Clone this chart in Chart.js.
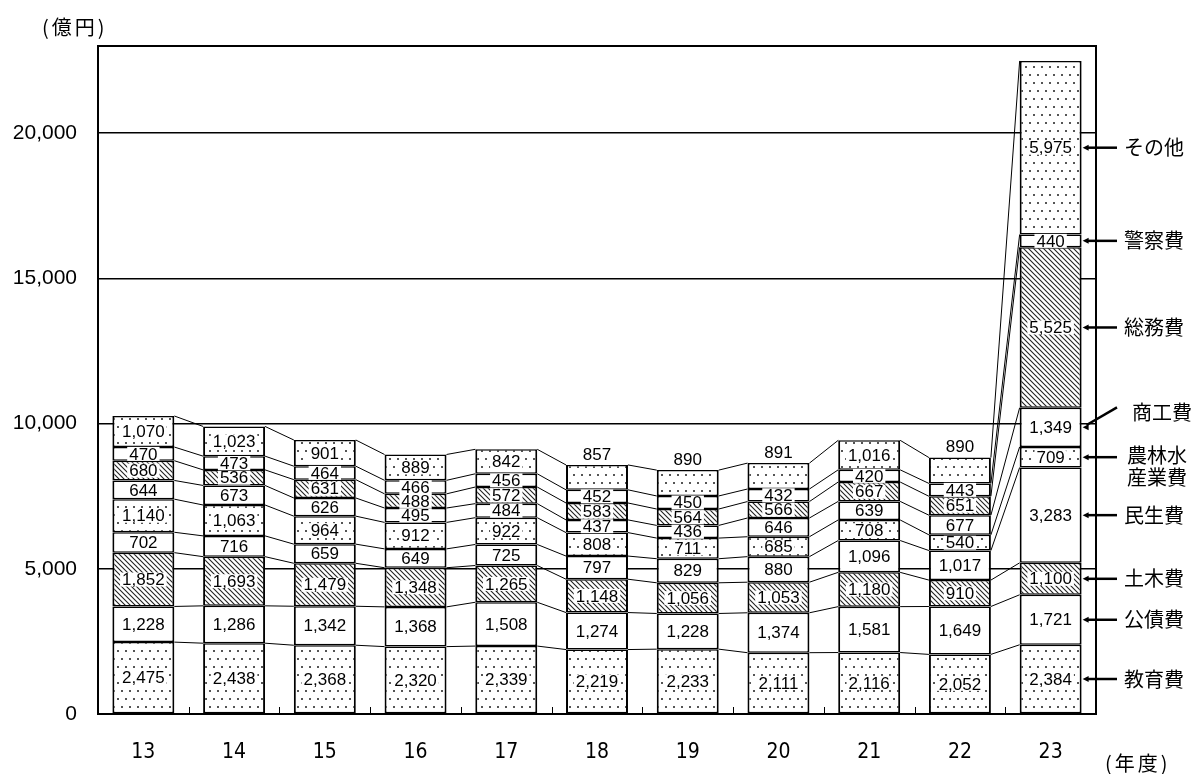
<!DOCTYPE html>
<html lang="ja">
<head>
<meta charset="utf-8">
<script src="https://cdn.jsdelivr.net/npm/chart.js@4.4.1/dist/chart.umd.min.js"></script>
<style>
  html, body { margin: 0; padding: 0; background: #fff; }
</style>
</head>
<body>
<canvas id="myChart" width="1195" height="774"></canvas>
<script>
// 年度
var years = ["13", "14", "15", "16", "17", "18", "19", "20", "21", "22", "23"];

// 目的別歳出（億円）
var kyouiku  = [2475, 2438, 2368, 2320, 2339, 2219, 2233, 2111, 2116, 2052, 2384];
var kousai   = [1228, 1286, 1342, 1368, 1508, 1274, 1228, 1374, 1581, 1649, 1721];
var doboku   = [1852, 1693, 1479, 1348, 1265, 1148, 1056, 1053, 1180, 910, 1100];
var minsei   = [702, 716, 659, 649, 725, 797, 829, 880, 1096, 1017, 3283];
var nourin   = [1140, 1063, 964, 912, 922, 808, 711, 685, 708, 540, 709];
var shoukou  = [644, 673, 626, 495, 484, 437, 436, 646, 639, 677, 1349];
var soumu    = [680, 536, 631, 488, 572, 583, 564, 566, 667, 651, 5525];
var keisatsu = [470, 473, 464, 466, 456, 452, 450, 432, 420, 443, 440];
var sonota   = [1070, 1023, 901, 889, 842, 857, 890, 891, 1016, 890, 5975];

var seriesNames = ["教育費", "公債費", "土木費", "民生費", "農林水産業費", "商工費", "総務費", "警察費", "その他"];
var sideLabels = [["教育費"], ["公債費"], ["土木費"], ["民生費"], ["農林水", "産業費"], ["商工費"], ["総務費"], ["警察費"], ["その他"]];
var yTicks = [0, 5000, 10000, 15000, 20000];

// その他 の数値をバーの上に出す年度
var labelAbove = ["18", "19", "20", "22"];

var NUM_FONT = '"Liberation Sans", Arial, sans-serif';
var JP_FONT = '"Noto Sans CJK JP", "Noto Sans", sans-serif';

function dotPattern() {
  var c = document.createElement("canvas");
  c.width = 8; c.height = 16;
  var g = c.getContext("2d");
  g.fillStyle = "#fff";
  g.fillRect(0, 0, 8, 16);
  g.fillStyle = "#555";
  g.fillRect(1, 2, 2, 2);
  g.fillRect(5, 10, 2, 2);
  return g.createPattern(c, "repeat");
}

function hatchPattern() {
  var c = document.createElement("canvas");
  c.width = 5; c.height = 5;
  var g = c.getContext("2d");
  g.fillStyle = "#fff";
  g.fillRect(0, 0, 5, 5);
  g.strokeStyle = "#222";
  g.lineWidth = 1.1;
  g.beginPath();
  g.moveTo(-1, -1); g.lineTo(6, 6);
  g.moveTo(-1, 4); g.lineTo(1, 6);
  g.moveTo(4, -1); g.lineTo(6, 1);
  g.stroke();
  return g.createPattern(c, "repeat");
}

var dots = dotPattern();
var hatch = hatchPattern();
var fills = [dots, "#fff", hatch, "#fff", dots, "#fff", hatch, "#fff", dots];
var values = [kyouiku, kousai, doboku, minsei, nourin, shoukou, soumu, keisatsu, sonota];

var datasets = values.map(function (v, i) {
  return {
    label: seriesNames[i],
    data: v,
    backgroundColor: fills[i],
    borderColor: "#000",
    borderWidth: { left: 2, right: 2, top: 1.5, bottom: 1.5 },
    borderSkipped: false,
    categoryPercentage: 1,
    barPercentage: 0.683
  };
});

function fmt(v) {
  return v.toLocaleString("en-US");
}

var extras = {
  id: "extras",
  beforeDatasetsDraw: function (chart) {
    var ctx = chart.ctx, a = chart.chartArea;
    ctx.save();
    ctx.strokeStyle = "#000";
    // 年度間をつなぐ線
    ctx.lineWidth = 1;
    chart.data.datasets.forEach(function (ds, di) {
      var meta = chart.getDatasetMeta(di);
      for (var i = 0; i < meta.data.length - 1; i++) {
        var p = meta.data[i], q = meta.data[i + 1];
        ctx.beginPath();
        ctx.moveTo(p.x + p.width / 2, p.y);
        ctx.lineTo(q.x - q.width / 2, q.y);
        ctx.stroke();
      }
    });
    // 目盛り
    var xs = chart.scales.x;
    for (var i = 0; i < years.length - 1; i++) {
      var bx = Math.round((xs.getPixelForValue(i) + xs.getPixelForValue(i + 1)) / 2) + 0.5;
      ctx.beginPath();
      ctx.moveTo(bx, a.bottom);
      ctx.lineTo(bx, a.bottom - 7);
      ctx.stroke();
    }
    // 枠
    ctx.lineWidth = 2;
    ctx.strokeRect(a.left, a.top, a.right - a.left, a.bottom - a.top);
    ctx.restore();
  },
  afterDatasetsDraw: function (chart) {
    var ctx = chart.ctx;
    ctx.save();
    ctx.font = "17px " + NUM_FONT;
    ctx.textAlign = "center";
    ctx.textBaseline = "middle";
    chart.data.datasets.forEach(function (ds, di) {
      var meta = chart.getDatasetMeta(di);
      meta.data.forEach(function (el, i) {
        var txt = fmt(ds.data[i]);
        var cy = (el.y + el.base) / 2;
        if (di === 8 && labelAbove.indexOf(years[i]) >= 0) {
          cy = el.y - 11;
        } else {
          var w = ctx.measureText(txt).width;
          ctx.fillStyle = "#fff";
          ctx.fillRect(el.x - w / 2 - 2, cy - 7, w + 4, 14);
        }
        ctx.fillStyle = "#000";
        ctx.fillText(txt, el.x, cy + 1);
      });
    });

    // 23年度の横に項目名と矢印
    var last = years.length - 1;
    ctx.font = "20px " + JP_FONT;
    ctx.textAlign = "left";
    chart.data.datasets.forEach(function (ds, di) {
      var el = chart.getDatasetMeta(di).data[last];
      var cy = (el.y + el.base) / 2;
      var tip = el.x + el.width / 2 + 1;
      var endX = 1117, endY = cy, tx = 1124, ty = cy;
      if (di === 5) { endY = cy - 20; tx = 1132; ty = cy - 15; }
      ctx.strokeStyle = "#000";
      ctx.fillStyle = "#000";
      ctx.lineWidth = 2.5;
      ctx.beginPath();
      ctx.moveTo(tip + 4, cy + (endY - cy) * 4 / (endX - tip));
      ctx.lineTo(endX, endY);
      ctx.stroke();
      ctx.beginPath();
      ctx.moveTo(tip, cy);
      ctx.lineTo(tip + 6, cy - 3);
      ctx.lineTo(tip + 6, cy + 3);
      ctx.closePath();
      ctx.fill();
      var lines = sideLabels[di];
      if (lines.length === 2) {
        ctx.fillText(lines[0], 1127, cy - 2);
        ctx.fillText(lines[1], 1127, cy + 20);
      } else {
        ctx.fillText(lines[0], tx, ty);
      }
    });

    // 単位
    ctx.font = "20px " + JP_FONT;
    ctx.letterSpacing = "3px";
    ctx.fillText("(億円)", 42, 27);
    ctx.fillText("(年度)", 1105, 763);
    ctx.restore();
  }
};

var ctx = document.getElementById("myChart").getContext("2d");
var myChart = new Chart(ctx, {
  type: "bar",
  data: { labels: years, datasets: datasets },
  options: {
    responsive: false,
    devicePixelRatio: 1,
    animation: false,
    layout: { padding: { top: 46, right: 99, left: 0, bottom: 0 } },
    plugins: {
      legend: { display: false },
      tooltip: { enabled: false }
    },
    scales: {
      x: {
        stacked: true,
        offset: true,
        grid: { display: false },
        border: { display: false },
        ticks: {
          color: "#000",
          padding: 18,
          font: { family: '"Liberation Sans Narrow", "DejaVu Sans Condensed", sans-serif', size: 21 }
        },
        afterFit: function (s) { s.height = 60; }
      },
      y: {
        stacked: true,
        min: 0,
        max: 23000,
        grid: { color: "#000", lineWidth: 1.5, drawTicks: false },
        border: { display: false },
        afterBuildTicks: function (s) {
          s.ticks = yTicks.map(function (v) { return { value: v }; });
        },
        ticks: {
          color: "#000",
          padding: 21,
          font: { family: NUM_FONT, size: 21 },
          callback: function (v) { return fmt(v); }
        },
        afterFit: function (s) { s.width = 98; }
      }
    }
  },
  plugins: [extras]
});
</script>
</body>
</html>
